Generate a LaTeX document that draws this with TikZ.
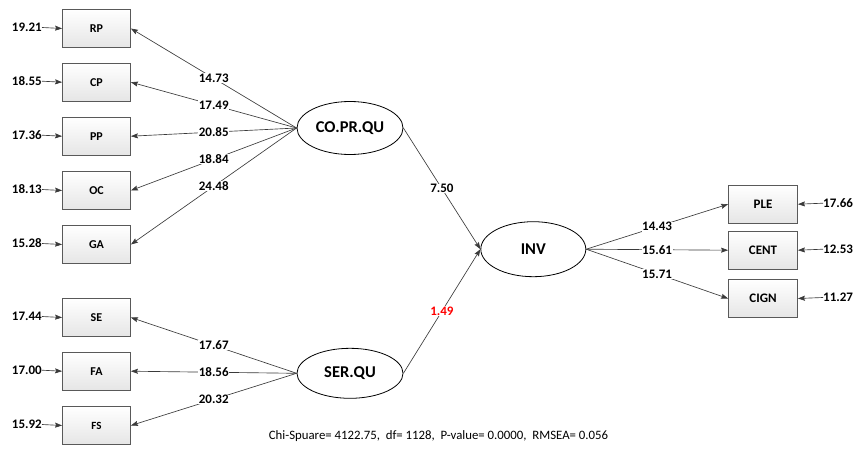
\documentclass[tikz,border=0pt]{standalone}
\usepackage{fontspec}
\setmainfont{Carlito}
\usetikzlibrary{arrows.meta,shapes.geometric}
\definecolor{lin}{HTML}{3A3A3A}
\definecolor{boxb}{HTML}{595959}
\begin{document}
\begin{tikzpicture}[x=1pt,y=-1pt,
  obs/.style={draw=boxb,line width=0.8pt,top color=white,bottom color=black!10,minimum width=68pt,minimum height=38pt,inner sep=0pt,font=\fontsize{12}{14}\selectfont\bfseries},
  obsr/.style={obs,minimum width=69pt,font=\fontsize{13}{15}\selectfont\bfseries},
  lat/.style={draw=black,ellipse,line width=0.8pt,fill=white,minimum width=106pt,minimum height=53pt,inner sep=0pt,font=\fontsize{16.5}{18}\selectfont\bfseries},
  arr/.style={draw=lin,line width=0.65pt,-{Stealth[length=7pt,width=5pt,inset=1pt]}},
  lab/.style={fill=white,inner sep=0.5pt,font=\fontsize{13}{15}\selectfont\bfseries},
  err/.style={inner sep=0pt,font=\fontsize{13}{15}\selectfont\bfseries}
]
\useasboundingbox (0,0) rectangle (853,452);
% left observed boxes
\node[obs] (rp) at (96.5,28.5) {RP};
\node[obs] (cp) at (96.5,82.2) {CP};
\node[obs] (pp) at (96.5,136.2) {PP};
\node[obs] (oc) at (96.5,190.5) {OC};
\node[obs] (ga) at (96.5,244.5) {GA};
\node[obs] (se) at (96.5,317.5) {SE};
\node[obs] (fa) at (96.5,371.2) {FA};
\node[obs,font=\fontsize{11}{13}\selectfont\bfseries] (fs) at (96.5,425.5) {FS};
% right observed boxes
\node[obsr] (ple) at (763,204.2) {PLE};
\node[obsr] (cent) at (763,250.2) {CENT};
\node[obsr] (cign) at (763,298.5) {CIGN};
% latent
\node[lat] (co) at (350,128) {CO.PR.QU};
\node[lat,minimum height=50pt] (ser) at (350,373.3) {SER.QU};
\node[lat,minimum width=105pt,minimum height=55pt] (inv) at (533.3,249.2) {INV};
% left error labels
\node[err,anchor=east] (e1) at (42,27.5) {19.21};
\node[err,anchor=east] (e2) at (42,81.2) {18.55};
\node[err,anchor=east] (e3) at (42,135.2) {17.36};
\node[err,anchor=east] (e4) at (42,189.5) {18.13};
\node[err,anchor=east] (e5) at (42,243.5) {15.28};
\node[err,anchor=east] (e6) at (42,316.5) {17.44};
\node[err,anchor=east] (e7) at (42,370.2) {17.00};
\node[err,anchor=east] (e8) at (42,424.5) {15.92};
\foreach \e/\b in {e1/rp,e2/cp,e3/pp,e4/oc,e5/ga,e6/se,e7/fa,e8/fs}
  \draw[arr] (\e.east) -- (\b.west);
% right error labels
\node[err,anchor=west] (r1) at (823,203.2) {17.66};
\node[err,anchor=west] (r2) at (823,249.2) {12.53};
\node[err,anchor=west] (r3) at (823,297.5) {11.27};
\foreach \e/\b in {r1/ple,r2/cent,r3/cign}
  \draw[arr] (\e.west) -- (\b.east);
% loadings CO.PR.QU
\foreach \b/\v in {rp/14.73,cp/17.49,pp/20.85,oc/18.84,ga/24.48}
  \draw[arr] (co.west) -- node[lab,pos=0.5]{\v} (\b.east);
% loadings SER.QU
\foreach \b/\v in {se/17.67,fa/18.56,fs/20.32}
  \draw[arr] (ser.west) -- node[lab,pos=0.5]{\v} (\b.east);
% structural
\draw[arr] (co.east) -- node[lab]{7.50} (inv.west);
\draw[arr] (ser.east) -- node[lab,text=red]{1.49} (inv.west);
% INV loadings
\draw[arr] (inv.east) -- node[lab]{14.43} (ple.west);
\draw[arr] (inv.east) -- node[lab]{15.61} (cent.west);
\draw[arr] (inv.east) -- node[lab]{15.71} (cign.west);
% caption
\node[inner sep=0pt,font=\fontsize{12.8}{14}\selectfont] (cap) at (438.5,436) {Chi-Spuare= 4122.75,\ \ df= 1128,\ \ P-value= 0.0000,\ \ RMSEA= 0.056};
\end{tikzpicture}
\end{document}
